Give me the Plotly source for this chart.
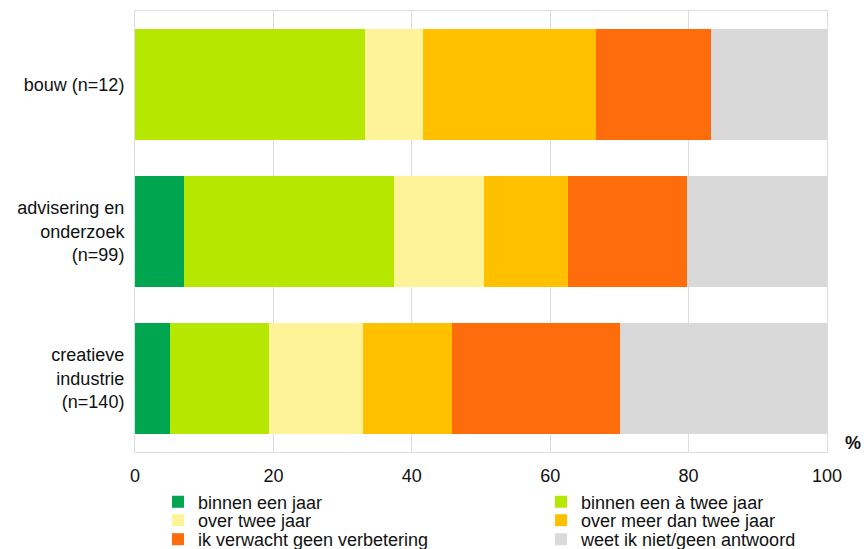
import plotly.graph_objects as go

categories = ["bouw (n=12)", "advisering en<br>onderzoek<br>(n=99)", "creatieve<br>industrie<br>(n=140)"]
series_names = ["binnen een jaar", "binnen een à twee jaar", "over twee jaar",
                "over meer dan twee jaar", "ik verwacht geen verbetering",
                "weet ik niet/geen antwoord"]
binnen_een_jaar = [0.0, 7.1, 5.0]
binnen_een_a_twee_jaar = [33.3, 30.3, 14.3]
over_twee_jaar = [8.3, 13.1, 13.6]
over_meer_dan_twee_jaar = [25.0, 12.1, 12.9]
geen_verbetering = [16.7, 17.2, 24.3]
weet_niet = [16.7, 20.2, 30.0]
x_ticks = [0, 20, 40, 60, 80, 100]

series_values = [binnen_een_jaar, binnen_een_a_twee_jaar, over_twee_jaar,
                 over_meer_dan_twee_jaar, geen_verbetering, weet_niet]
colors = ["#00A54F", "#B6E700", "#FFF399", "#FFC000", "#FF6C0C", "#D9D9D9"]

W, H = 864, 549
ML, MR, MT, MB = 135, 37, 11, 97
PW = W - ML - MR
# legend slots: (x px of legend box, y px of legend box centre)
col_x = [158, 541]
row_y = [502, 520.5, 539.5]

fig = go.Figure()
legend_layouts = {}
for i, (name, vals, col) in enumerate(zip(series_names, series_values, colors)):
    lid = "legend" if i == 0 else f"legend{i + 1}"
    fig.add_trace(go.Bar(y=categories, x=vals, name=name, orientation="h",
                         marker=dict(color=col, line=dict(width=0)),
                         legend=lid))
    cx = col_x[i % 2]
    cy = row_y[i // 2]
    legend_layouts[lid] = dict(
        xref="paper", yref="container",
        x=(cx - ML) / PW, xanchor="left",
        y=(H - cy) / H, yanchor="middle",
        font=dict(size=18, color="#111"),
        bgcolor="rgba(0,0,0,0)", borderwidth=0,
        itemwidth=30, orientation="h",
    )

fig.update_layout(
    barmode="stack",
    bargap=0.24,
    width=W, height=H,
    margin=dict(l=ML, r=MR, t=MT, b=MB),
    plot_bgcolor="white", paper_bgcolor="white",
    font=dict(family="Liberation Sans, Arial, sans-serif", size=18, color="#111"),
    xaxis=dict(range=[0, 100], tickvals=x_ticks, showgrid=True, gridcolor="#DDDDDD",
               gridwidth=1, showline=True, linecolor="#DDDDDD", mirror=True,
               zeroline=False, ticks="outside", ticklen=7, tickcolor="rgba(0,0,0,0)",
               tickfont=dict(size=18), automargin=False),
    yaxis=dict(categoryorder="array", categoryarray=categories, autorange="reversed",
               showline=True, linecolor="#DDDDDD", mirror=True, ticks="outside",
               ticklen=6, tickcolor="rgba(0,0,0,0)", tickfont=dict(size=18),
               automargin=False),
    annotations=[dict(text="<b>%</b>", xref="paper", yref="paper", x=1.0376, y=0.0204,
                      xanchor="center", yanchor="middle", showarrow=False,
                      font=dict(size=18))],
    showlegend=True,
    **legend_layouts,
)

fig.write_html("out.html", config={"displayModeBar": False},
               post_script="document.body.style.margin='0';")
